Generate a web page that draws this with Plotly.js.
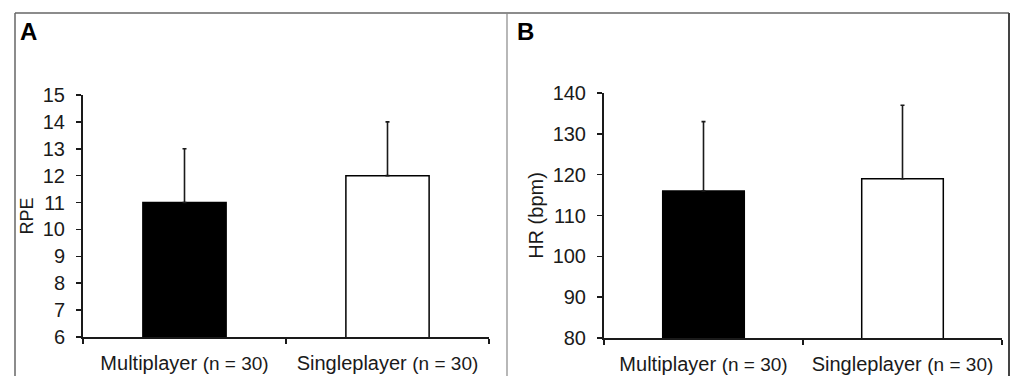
<!DOCTYPE html>
<html>
<head>
<meta charset="utf-8">
<script src="https://cdn.plot.ly/plotly-3.0.1.min.js"></script>
<style>html,body{margin:0;padding:0;background:#fff;}#chart{width:1011px;height:376px;}</style>
</head>
<body>
<div id="chart"></div>
<script>
// Data
const categories = ["Multiplayer", "Singleplayer"];
const groupSizes = [30, 30];
const rpeMeans = [11, 12];
const rpeSD = [2, 2];
const hrMeans = [116, 119];
const hrSD = [17, 18];
const barFills = ["#000000", "#ffffff"];
const rpeTicks = [6, 7, 8, 9, 10, 11, 12, 13, 14, 15];
const hrTicks = [80, 90, 100, 110, 120, 130, 140];

const W = 1011, H = 376;
const px = x => x / W;
const py = y => 1 - y / H;

const tickText = categories.map((c, i) =>
  c + " <span style='font-size:19px'>(n = " + groupSizes[i] + ")</span>");

const font = {family: "Liberation Sans, Arial, sans-serif", color: "#1a1a1a"};

function barTrace(means, sd, xa, ya) {
  return {
    type: "bar",
    x: categories,
    y: means,
    xaxis: xa, yaxis: ya,
    width: 0.41,
    marker: {color: barFills, line: {color: "#000", width: 1.5}},
    error_y: {type: "data", symmetric: false, array: sd, arrayminus: sd.map(() => 0),
              color: "#1a1a1a", thickness: 1.6, width: 2},
    showlegend: false,
    hoverinfo: "none"
  };
}

const xBase = {
  type: "category", range: [-0.5, 1.5], tickson: "boundaries",
  ticks: "outside", ticklen: 5, tickwidth: 1.5, tickcolor: "#1a1a1a",
  showline: true, linecolor: "#1a1a1a", linewidth: 2,
  showgrid: false, zeroline: false, fixedrange: true,
  tickfont: {size: 20}, automargin: false, ticklabelstandoff: 7
};
const yBase = {
  ticks: "outside", ticklen: 5, tickwidth: 1.5, tickcolor: "#1a1a1a",
  showline: true, linecolor: "#1a1a1a", linewidth: 2,
  showgrid: false, zeroline: false, fixedrange: true,
  tickfont: {size: 20}, automargin: false, ticklabelstandoff: 7
};

const layout = {
  width: W, height: H,
  margin: {l: 0, r: 0, t: 0, b: 0},
  paper_bgcolor: "#fff", plot_bgcolor: "rgba(0,0,0,0)",
  font: font,
  xaxis: Object.assign({}, xBase, {domain: [px(83), px(489)], anchor: "y",
    tickvals: categories, ticktext: tickText}),
  yaxis: Object.assign({}, yBase, {domain: [py(337), py(95)], anchor: "x",
    range: [6, 15], tickvals: rpeTicks,
    title: {text: "RPE", font: {size: 18}, standoff: 4}}),
  xaxis2: Object.assign({}, xBase, {domain: [px(604), px(1002)], anchor: "y2",
    tickvals: categories, ticktext: tickText}),
  yaxis2: Object.assign({}, yBase, {domain: [py(338), py(93)], anchor: "x2",
    range: [80, 140], tickvals: hrTicks,
    title: {text: "HR (bpm)", font: {size: 20}, standoff: 4}}),
  shapes: [
    {type: "line", xref: "paper", yref: "paper", x0: px(15), x1: px(1009), y0: py(13), y1: py(13), line: {color: "#666", width: 1.5}},
    {type: "line", xref: "paper", yref: "paper", x0: px(15), x1: px(15), y0: py(13), y1: py(380), line: {color: "#666", width: 1.5}},
    {type: "line", xref: "paper", yref: "paper", x0: px(507), x1: px(507), y0: py(13), y1: py(380), line: {color: "#888", width: 1.2}},
    {type: "line", xref: "paper", yref: "paper", x0: px(1009), x1: px(1009), y0: py(13), y1: py(380), line: {color: "#444", width: 2}}
  ],
  annotations: [
    {text: "<b>A</b>", xref: "paper", yref: "paper", x: px(18), y: py(16), xanchor: "left", yanchor: "top", showarrow: false, font: {size: 24, color: "#000"}},
    {text: "<b>B</b>", xref: "paper", yref: "paper", x: px(515), y: py(16), xanchor: "left", yanchor: "top", showarrow: false, font: {size: 24, color: "#000"}}
  ]
};

Plotly.newPlot("chart", [barTrace(rpeMeans, rpeSD, "x", "y"), barTrace(hrMeans, hrSD, "x2", "y2")], layout, {displayModeBar: false, staticPlot: true});
</script>
</body>
</html>
